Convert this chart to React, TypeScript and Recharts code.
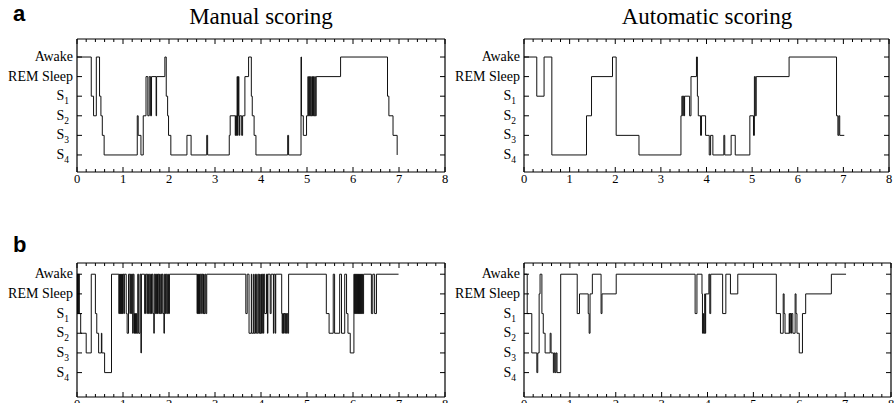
import React from "react";
import { LineChart, Line, XAxis, YAxis } from "recharts";

// sleep stages, bottom to top: S4=0 ... Awake=5
const STAGES = [0, 1, 2, 3, 4, 5];
const STAGE_LABELS = ["S4", "S3", "S2", "S1", "REM Sleep", "Awake"];
const HOUR_TICKS = [0, 1, 2, 3, 4, 5, 6, 7, 8];
const HOUR_LABELS = ["0", "1", "2", "3", "4", "5", "6", "7", "8"];
const MINOR_PER_HOUR = 5;
const TITLES = ["Manual scoring", "Automatic scoring"];
const PANEL_LETTERS = ["a", "b"];

// [hour, stage] - stage holds from that hour on
const manualA: [number, number][] = [
  [0, 5], [0.31, 3], [0.36, 2], [0.42, 5], [0.49, 3], [0.52, 2], [0.55, 1], [0.59, 0],
  [1.31, 2], [1.33, 1], [1.39, 0], [1.44, 2], [1.5, 4], [1.54, 2], [1.57, 4], [1.6, 2],
  [1.62, 4], [1.72, 2], [1.73, 4], [1.91, 5], [1.94, 3], [1.97, 2], [1.99, 1], [2.04, 0],
  [2.39, 1], [2.48, 0], [2.82, 1], [2.84, 0], [3.31, 1], [3.33, 2], [3.44, 1], [3.45, 2],
  [3.46, 1], [3.47, 2], [3.48, 4], [3.49, 1], [3.5, 2], [3.51, 4], [3.52, 2], [3.53, 1],
  [3.54, 2], [3.58, 1], [3.6, 2], [3.65, 4], [3.73, 5], [3.79, 3], [3.81, 2], [3.85, 1],
  [3.89, 0], [4.58, 1], [4.6, 0], [4.87, 5], [4.88, 2], [4.92, 1], [4.99, 2], [5.02, 4],
  [5.03, 2], [5.05, 4], [5.06, 2], [5.08, 4], [5.09, 2], [5.11, 4], [5.12, 2], [5.14, 4],
  [5.15, 2], [5.17, 4], [5.18, 2], [5.2, 4], [5.73, 5], [6.75, 3], [6.78, 2], [6.87, 1],
  [6.96, 0],
];

const autoA: [number, number][] = [
  [0, 5], [0.28, 3], [0.44, 5], [0.61, 0], [1.37, 2], [1.48, 4], [1.94, 5], [2.02, 1],
  [2.52, 0], [3.44, 2], [3.46, 3], [3.48, 2], [3.49, 3], [3.51, 2], [3.52, 3], [3.63, 2],
  [3.66, 4], [3.78, 5], [3.8, 3], [3.82, 2], [3.87, 1], [3.89, 2], [3.98, 1], [4.06, 0],
  [4.09, 1], [4.14, 0], [4.38, 1], [4.4, 0], [4.54, 1], [4.63, 0], [4.95, 2], [5.03, 1],
  [5.05, 4], [5.07, 2], [5.09, 4], [5.81, 5], [6.85, 2], [6.88, 1], [6.9, 2], [6.92, 1],
  [7.02, 1],
];

const manualB: [number, number][] = [
  [0, 5], [0.01, 3], [0.02, 5], [0.03, 3], [0.04, 5], [0.05, 3], [0.08, 2], [0.2, 1],
  [0.31, 5], [0.4, 3], [0.43, 2], [0.47, 1], [0.53, 2], [0.54, 1], [0.6, 0], [0.75, 5],
  [0.91, 3], [0.92, 5], [0.93, 3], [0.94, 5], [0.95, 3], [0.96, 5], [0.97, 3], [0.98, 5],
  [0.99, 3], [1.0, 5], [1.02, 3], [1.03, 5], [1.07, 3], [1.09, 2], [1.12, 5], [1.15, 3],
  [1.16, 5], [1.18, 3], [1.19, 5], [1.21, 2], [1.22, 5], [1.24, 2], [1.25, 3], [1.26, 2],
  [1.27, 3], [1.28, 2], [1.29, 3], [1.3, 2], [1.32, 5], [1.34, 2], [1.37, 5], [1.39, 1],
  [1.4, 5], [1.47, 3], [1.49, 5], [1.52, 3], [1.53, 5], [1.55, 3], [1.56, 5], [1.58, 3],
  [1.6, 5], [1.62, 3], [1.63, 5], [1.65, 3], [1.67, 2], [1.68, 5], [1.7, 3], [1.71, 5],
  [1.73, 3], [1.74, 5], [1.75, 3], [1.76, 5], [1.78, 3], [1.79, 5], [1.8, 3], [1.82, 5],
  [1.84, 3], [1.85, 5], [1.87, 3], [1.89, 2], [1.9, 5], [1.92, 3], [1.93, 5], [1.95, 3],
  [1.97, 5], [1.99, 3], [2.01, 5], [2.61, 3], [2.62, 5], [2.63, 3], [2.64, 5], [2.65, 3],
  [2.66, 5], [2.67, 3], [2.68, 5], [2.71, 3], [2.72, 5], [2.74, 3], [2.75, 5], [2.76, 3],
  [2.78, 5], [2.8, 3], [2.82, 5], [3.67, 3], [3.7, 5], [3.74, 2], [3.79, 5], [3.8, 2],
  [3.84, 5], [3.85, 2], [3.88, 5], [3.9, 2], [3.93, 5], [3.95, 2], [3.97, 5], [3.98, 2],
  [4.0, 5], [4.01, 2], [4.03, 5], [4.05, 2], [4.06, 5], [4.08, 3], [4.12, 5], [4.14, 2],
  [4.15, 5], [4.2, 3], [4.22, 5], [4.27, 2], [4.28, 5], [4.31, 2], [4.32, 5], [4.45, 3],
  [4.46, 2], [4.47, 3], [4.49, 2], [4.5, 3], [4.52, 2], [4.53, 3], [4.55, 2], [4.56, 3],
  [4.58, 2], [4.6, 5], [5.42, 3], [5.48, 2], [5.57, 5], [5.6, 2], [5.71, 5], [5.75, 2],
  [5.82, 5], [5.86, 3], [5.89, 2], [5.94, 1], [6.02, 5], [6.03, 3], [6.04, 5], [6.05, 3],
  [6.06, 5], [6.07, 3], [6.08, 5], [6.09, 3], [6.1, 5], [6.11, 3], [6.12, 5], [6.13, 3],
  [6.14, 5], [6.15, 3], [6.16, 5], [6.17, 3], [6.18, 5], [6.19, 3], [6.2, 5], [6.21, 3],
  [6.23, 5], [6.4, 3], [6.43, 5], [6.47, 3], [6.51, 5], [6.99, 5],
];

const autoB: [number, number][] = [
  [0, 5], [0.07, 3], [0.17, 1], [0.28, 0], [0.3, 1], [0.33, 4], [0.35, 5], [0.39, 3],
  [0.42, 2], [0.46, 1], [0.57, 2], [0.59, 1], [0.64, 0], [0.66, 1], [0.68, 0], [0.7, 1],
  [0.72, 0], [0.8, 5], [1.16, 3], [1.21, 4], [1.4, 3], [1.42, 2], [1.44, 4], [1.49, 5],
  [1.68, 3], [1.7, 4], [2.01, 5], [3.73, 3], [3.77, 5], [3.88, 4], [3.89, 2], [3.91, 3],
  [3.92, 2], [3.94, 4], [3.95, 2], [3.96, 4], [4.03, 5], [4.05, 3], [4.07, 5], [4.33, 3],
  [4.4, 5], [4.5, 4], [4.66, 5], [5.5, 3], [5.59, 2], [5.65, 4], [5.67, 3], [5.69, 2],
  [5.78, 3], [5.79, 2], [5.8, 3], [5.82, 2], [5.83, 3], [5.86, 2], [5.91, 4], [5.93, 3],
  [5.95, 2], [6.0, 1], [6.07, 3], [6.14, 4], [6.7, 5], [7.02, 5],
];

const SERIF = '"Liberation Serif", "Times New Roman", serif';
const SANS = '"Liberation Sans", Arial, sans-serif';
const INK = "#000";

const xTicks: number[] = [];
for (let i = 0; i <= HOUR_TICKS[HOUR_TICKS.length - 1] * MINOR_PER_HOUR; i++) {
  xTicks.push(Math.round((i / MINOR_PER_HOUR) * 100) / 100);
}
const isMajor = (v: number) => Math.abs(v - Math.round(v)) < 1e-6;

const BottomTick = (props: any) => {
  const { x, y, payload } = props;
  const v = payload.value;
  const major = isMajor(v);
  return (
    <g>
      <line x1={x} x2={x} y1={y} y2={y - (major ? 5 : 3)} stroke={INK} />
      {major && (
        <text x={x} y={y + 10.5} textAnchor="middle" fontSize={12.5} fontFamily={SERIF} fill={INK}>
          {HOUR_LABELS[HOUR_TICKS.indexOf(Math.round(v))]}
        </text>
      )}
    </g>
  );
};

const TopTick = (props: any) => {
  const { x, y, payload } = props;
  const major = isMajor(payload.value);
  return <line x1={x} x2={x} y1={y} y2={y + (major ? 5 : 3)} stroke={INK} />;
};

const LeftTick = (props: any) => {
  const { x, y, payload } = props;
  const label = STAGE_LABELS[payload.value];
  const sub = /^S\d$/.test(label);
  return (
    <g>
      <line x1={x} x2={x + 5} y1={y} y2={y} stroke={INK} />
      <text
        x={sub ? x - 8 : x - 4}
        y={y + 4}
        textAnchor="end"
        fontSize={14}
        fontFamily={SERIF}
        fill={INK}
      >
        {sub ? (
          <>
            S<tspan fontSize={9.5} dy={4}>{label[1]}</tspan>
          </>
        ) : (
          label
        )}
      </text>
    </g>
  );
};

const RightTick = (props: any) => {
  const { x, y } = props;
  return <line x1={x} x2={x - 5} y1={y} y2={y} stroke={INK} />;
};

type PanelProps = {
  series: [number, number][];
  plotLeft: number;
  plotTop: number;
  plotRight: number;
  plotBottom: number;
  yDomain: [number, number];
};

const LEFT_W = 75;
const RIGHT_W = 5;
const TOP_H = 5;
const BOTTOM_H = 20;

const Hypnogram = ({ series, plotLeft, plotTop, plotRight, plotBottom, yDomain }: PanelProps) => {
  const chartLeft = plotLeft - LEFT_W - 2;
  const chartTop = plotTop - TOP_H - 4;
  const width = plotRight - chartLeft + RIGHT_W + 2;
  const height = plotBottom - chartTop + BOTTOM_H + 8;
  const data = series.map(([t, s]) => ({ t, s }));
  return (
    <div style={{ position: "absolute", left: chartLeft, top: chartTop }}>
      <LineChart
        width={width}
        height={height}
        data={data}
        margin={{ top: 4, left: 2, right: 2, bottom: 8 }}
      >
        <XAxis
          xAxisId="bottom"
          dataKey="t"
          type="number"
          domain={[0, 8]}
          ticks={xTicks}
          interval={0}
          height={BOTTOM_H}
          tickSize={0}
          tickMargin={0}
          tickLine={false}
          tick={BottomTick}
          axisLine={{ stroke: INK, strokeWidth: 1.2 }}
          allowDataOverflow
        />
        <XAxis
          xAxisId="top"
          orientation="top"
          dataKey="t"
          type="number"
          domain={[0, 8]}
          ticks={xTicks}
          interval={0}
          height={TOP_H}
          tickSize={0}
          tickMargin={0}
          tickLine={false}
          tick={TopTick}
          axisLine={{ stroke: INK, strokeWidth: 1.2 }}
          allowDataOverflow
        />
        <YAxis
          yAxisId="left"
          type="number"
          domain={yDomain}
          ticks={STAGES}
          interval={0}
          width={LEFT_W}
          tickSize={0}
          tickMargin={0}
          tickLine={false}
          tick={LeftTick}
          axisLine={{ stroke: INK, strokeWidth: 1.2 }}
          allowDataOverflow
        />
        <YAxis
          yAxisId="right"
          orientation="right"
          type="number"
          domain={yDomain}
          ticks={STAGES}
          interval={0}
          width={RIGHT_W}
          tickSize={0}
          tickMargin={0}
          tickLine={false}
          tick={RightTick}
          axisLine={{ stroke: INK, strokeWidth: 1.2 }}
          allowDataOverflow
        />
        <Line
          xAxisId="bottom"
          yAxisId="left"
          type="stepAfter"
          dataKey="s"
          stroke="#111"
          strokeWidth={1}
          dot={false}
          activeDot={false}
          isAnimationActive={false}
        />
      </LineChart>
    </div>
  );
};

const TOP_DOMAIN: [number, number] = [-0.87, 5.92];
const BOTTOM_DOMAIN: [number, number] = [-1.24, 5.57];

export default function App() {
  return (
    <div
      style={{
        position: "absolute",
        left: 0,
        top: 0,
        width: 894,
        height: 403,
        overflow: "hidden",
        background: "#fff",
      }}
    >
      <div style={{ position: "absolute", left: 13, top: 0, fontFamily: SANS, fontWeight: 700, fontSize: 22, lineHeight: "28px" }}>
        {PANEL_LETTERS[0]}
      </div>
      <div style={{ position: "absolute", left: 13, top: 231, fontFamily: SANS, fontWeight: 700, fontSize: 22, lineHeight: "28px" }}>
        {PANEL_LETTERS[1]}
      </div>
      <div style={{ position: "absolute", left: 77, width: 368, top: 2, textAlign: "center", fontFamily: SERIF, fontSize: 23, lineHeight: "30px" }}>
        {TITLES[0]}
      </div>
      <div style={{ position: "absolute", left: 524, width: 366, top: 2, textAlign: "center", fontFamily: SERIF, fontSize: 23, lineHeight: "30px" }}>
        {TITLES[1]}
      </div>
      <Hypnogram series={manualA} plotLeft={77} plotTop={39} plotRight={445} plotBottom={172} yDomain={TOP_DOMAIN} />
      <Hypnogram series={autoA} plotLeft={524} plotTop={39} plotRight={889} plotBottom={172} yDomain={TOP_DOMAIN} />
      <Hypnogram series={manualB} plotLeft={77} plotTop={263} plotRight={445} plotBottom={397} yDomain={BOTTOM_DOMAIN} />
      <Hypnogram series={autoB} plotLeft={524} plotTop={263} plotRight={891} plotBottom={397} yDomain={BOTTOM_DOMAIN} />
    </div>
  );
}
